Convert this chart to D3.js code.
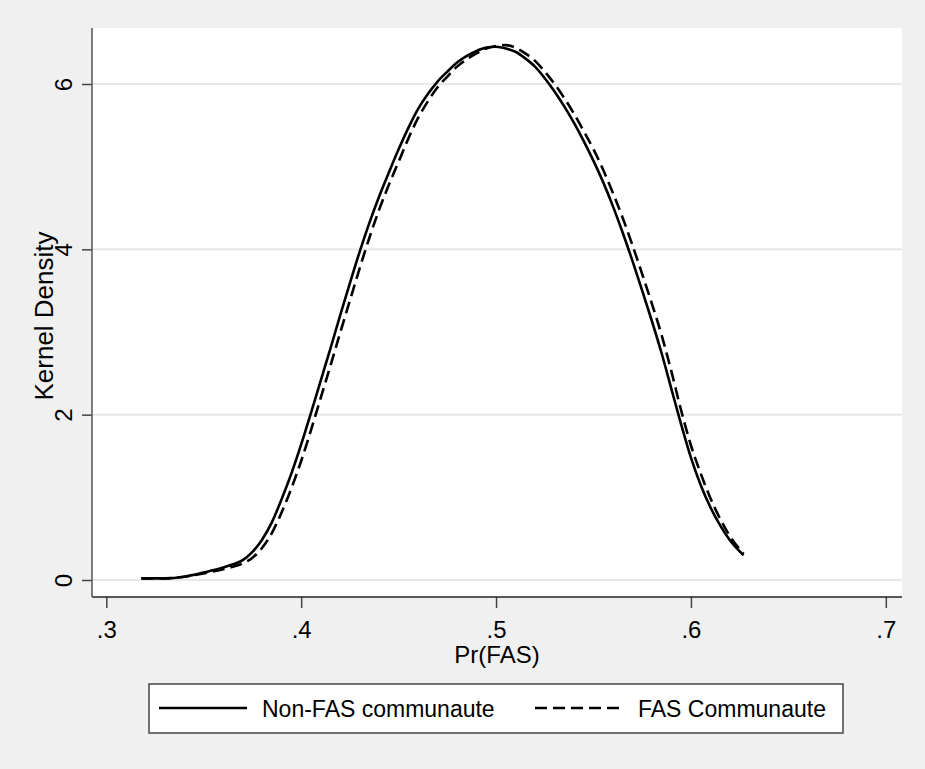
<!DOCTYPE html>
<html>
<head>
<meta charset="utf-8">
<script src="https://cdn.jsdelivr.net/npm/d3@7"></script>
<style>
  html, body { margin: 0; padding: 0; background: #f0f0f0; }
  text { font-family: "Liberation Sans", Arial, sans-serif; fill: #000; }
</style>
</head>
<body>
<div id="viz"></div>
<script>
// Pr(FAS) grid and kernel density estimates
const prFas = [0.318, 0.33, 0.34, 0.35, 0.36, 0.365, 0.37, 0.375, 0.38, 0.385, 0.39, 0.395, 0.40, 0.405, 0.41, 0.415, 0.42, 0.425, 0.43, 0.435, 0.44, 0.445, 0.45, 0.455, 0.46, 0.465, 0.47, 0.475, 0.48, 0.485, 0.49, 0.495, 0.50, 0.505, 0.51, 0.515, 0.52, 0.525, 0.53, 0.535, 0.54, 0.545, 0.55, 0.555, 0.56, 0.565, 0.57, 0.575, 0.58, 0.585, 0.59, 0.595, 0.60, 0.605, 0.61, 0.615, 0.62, 0.627];
const nonFas = [0.02, 0.02, 0.04, 0.09, 0.15, 0.19, 0.24, 0.34, 0.49, 0.70, 0.98, 1.29, 1.64, 2.02, 2.41, 2.80, 3.20, 3.59, 3.97, 4.32, 4.64, 4.93, 5.21, 5.47, 5.70, 5.88, 6.03, 6.15, 6.26, 6.34, 6.40, 6.44, 6.45, 6.43, 6.39, 6.31, 6.21, 6.07, 5.91, 5.73, 5.53, 5.31, 5.07, 4.81, 4.52, 4.20, 3.86, 3.50, 3.13, 2.74, 2.31, 1.88, 1.48, 1.15, 0.88, 0.66, 0.48, 0.30];
const fas = [0.02, 0.02, 0.04, 0.08, 0.13, 0.16, 0.20, 0.27, 0.39, 0.57, 0.82, 1.11, 1.44, 1.81, 2.20, 2.59, 2.99, 3.38, 3.77, 4.14, 4.48, 4.78, 5.06, 5.34, 5.59, 5.79, 5.96, 6.09, 6.21, 6.30, 6.37, 6.43, 6.46, 6.47, 6.44, 6.37, 6.28, 6.15, 6.00, 5.83, 5.64, 5.43, 5.21, 4.96, 4.68, 4.38, 4.05, 3.70, 3.34, 2.96, 2.52, 2.05, 1.63, 1.29, 0.99, 0.74, 0.53, 0.32];

const xTicks = [0.3, 0.4, 0.5, 0.6, 0.7];
const yTicks = [0, 2, 4, 6];
const seriesNames = ["Non-FAS communaute", "FAS Communaute"];

const width = 925;
const height = 769;
const dash = "12,6";

const svg = d3.select('#viz').append('svg')
    .attr('width', width)
    .attr('height', height);

svg.append('rect')
    .attr('width', width)
    .attr('height', height)
    .attr('fill', '#f0f0f0');

// plot region
const plot = { left: 92, right: 902, top: 28, bottom: 597 };

svg.append('rect')
    .attr('x', plot.left)
    .attr('y', plot.top)
    .attr('width', plot.right - plot.left)
    .attr('height', plot.bottom - plot.top)
    .attr('fill', '#fff');

const x = d3.scaleLinear().domain([0.3, 0.7]).range([106.3, 885.8]);
const y = d3.scaleLinear().domain([0, 6]).range([580, 84]);

// gridlines
svg.append('g')
    .selectAll('line')
    .data(yTicks)
    .enter()
    .append('line')
    .attr('x1', plot.left)
    .attr('x2', plot.right)
    .attr('y1', d => y(d))
    .attr('y2', d => y(d))
    .attr('stroke', '#e8e8e8')
    .attr('stroke-width', 2);

// axes
const fmt = d => d3.format('.1f')(d).replace(/^0/, '');

const xAxis = svg.append('g')
    .attr('transform', `translate(0,${plot.bottom})`)
    .call(d3.axisBottom(x).tickValues(xTicks).tickSize(11).tickSizeOuter(0).tickFormat(fmt));
xAxis.select('.domain').remove();
xAxis.append('line')
    .attr('x1', plot.left).attr('x2', plot.right)
    .attr('stroke', '#222').attr('stroke-width', 1.5);
xAxis.selectAll('.tick line').attr('stroke', '#444').attr('stroke-width', 1.5);
xAxis.selectAll('.tick text')
    .attr('y', 41)
    .attr('dy', null)
    .attr('font-size', 24)
    .attr('font-family', '"Liberation Sans", Arial, sans-serif')
    .attr('fill', '#000');

const yAxis = svg.append('g')
    .attr('transform', `translate(${plot.left},0)`)
    .call(d3.axisLeft(y).tickValues(yTicks).tickSize(10).tickSizeOuter(0).tickFormat(d3.format('d')));
yAxis.select('.domain').remove();
yAxis.append('line')
    .attr('y1', plot.top).attr('y2', plot.bottom)
    .attr('stroke', '#555').attr('stroke-width', 1.5);
yAxis.selectAll('.tick line').attr('stroke', '#444').attr('stroke-width', 1.5);
yAxis.selectAll('.tick text')
    .attr('x', null)
    .attr('dy', null)
    .attr('text-anchor', 'middle')
    .attr('transform', 'translate(-20,0) rotate(-90)')
    .attr('font-size', 24)
    .attr('font-family', '"Liberation Sans", Arial, sans-serif')
    .attr('fill', '#000');

// axis titles
svg.append('text')
    .attr('x', 497)
    .attr('y', 663)
    .attr('text-anchor', 'middle')
    .attr('font-size', 24)
    .text('Pr(FAS)');

svg.append('text')
    .attr('transform', 'translate(53,316) rotate(-90)')
    .attr('text-anchor', 'middle')
    .attr('font-size', 26)
    .text('Kernel Density');

// density curves
const line = d3.line()
    .x(d => x(d[0]))
    .y(d => y(d[1]))
    .curve(d3.curveMonotoneX);

svg.append('path')
    .datum(d3.zip(prFas, nonFas))
    .attr('d', line)
    .attr('fill', 'none')
    .attr('stroke', '#000')
    .attr('stroke-width', 2.6);

svg.append('path')
    .datum(d3.zip(prFas, fas))
    .attr('d', line)
    .attr('fill', 'none')
    .attr('stroke', '#000')
    .attr('stroke-width', 2.6)
    .attr('stroke-dasharray', dash);

// legend
const legend = svg.append('g');

legend.append('rect')
    .attr('x', 149)
    .attr('y', 684)
    .attr('width', 694)
    .attr('height', 49)
    .attr('fill', '#fff')
    .attr('stroke', '#444')
    .attr('stroke-width', 1.5);

const items = [
    { name: seriesNames[0], x1: 159, x2: 247, tx: 262, dash: null },
    { name: seriesNames[1], x1: 535, x2: 623, tx: 638, dash: dash }
];

items.forEach(it => {
    legend.append('line')
        .attr('x1', it.x1).attr('x2', it.x2)
        .attr('y1', 708).attr('y2', 708)
        .attr('stroke', '#000')
        .attr('stroke-width', 2.6)
        .attr('stroke-dasharray', it.dash);
    legend.append('text')
        .attr('x', it.tx)
        .attr('y', 716.5)
        .attr('font-size', 23)
        .text(it.name);
});
</script>
</body>
</html>
